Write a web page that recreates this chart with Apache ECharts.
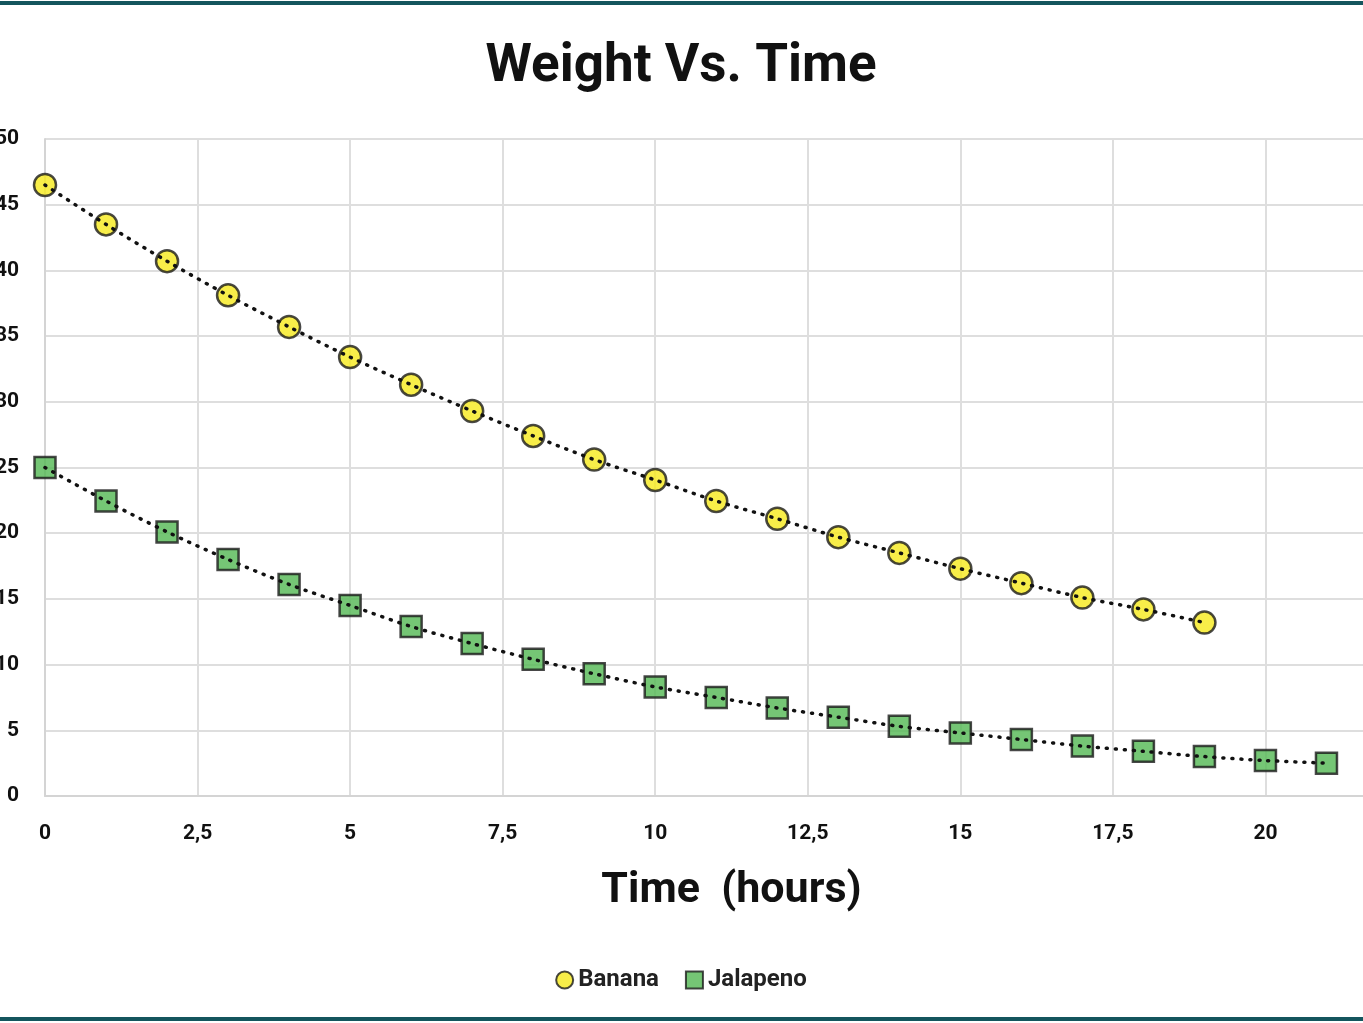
<!DOCTYPE html>
<html>
<head>
<meta charset="utf-8">
<script src="https://cdn.jsdelivr.net/npm/echarts@6/dist/echarts.min.js"></script>
<style>
  html, body { margin: 0; padding: 0; background: #fff; overflow: hidden; }
  .frame { position: relative; width: 1363px; height: 1023px; overflow: hidden; background: #fff; }
  .band { position: absolute; left: 0; width: 100%; height: 4px; background: #14555d; }
  #chart { position: absolute; left: -80px; top: 0; width: 1522px; height: 1023px; }
</style>
</head>
<body>
<div class="frame">
  <div id="chart"></div>
  <div class="band" style="top:1px"></div>
  <div class="band" style="top:1017px"></div>
</div>
<script>
const hours = [0, 1, 2, 3, 4, 5, 6, 7, 8, 9, 10, 11, 12, 13, 14, 15, 16, 17, 18, 19, 20, 21]
const banana = [46.5, 43.5, 40.7, 38.1, 35.7, 33.4, 31.3, 29.3, 27.4, 25.6, 24.05, 22.45,
  21.1, 19.7, 18.5, 17.3, 16.2, 15.1, 14.2, 13.2]
const jalapeno = [25.0, 22.45, 20.1, 18.0, 16.1, 14.5, 12.9, 11.6, 10.4, 9.3, 8.3, 7.5,
  6.7, 6.0, 5.3, 4.8, 4.3, 3.8, 3.4, 3.0, 2.7, 2.5]

const pairs = (ys) => ys.map((y, i) => [hours[i], y])

const chart = echarts.init(document.getElementById('chart'))
const font = 'Roboto, "Noto Sans", sans-serif'

const trend = (name, ys) => ({
  name: name + ' trend',
  type: 'line',
  data: pairs(ys),
  symbol: 'none',
  smooth: 0.3,
  z: 5,
  silent: true,
  lineStyle: { color: '#111', width: 3.5, type: [1, 8], cap: 'round' },
})

chart.setOption({
  animation: false,
  title: {
    text: 'Weight Vs. Time',
    left: 'center',
    top: 36,
    textStyle: { fontFamily: font, fontSize: 53, fontWeight: 'bold', color: '#111' },
  },
  legend: {
    data: ['Banana', 'Jalapeno'],
    left: 'center',
    top: 963,
    itemWidth: 17,
    itemHeight: 17,
    itemGap: 26,
    textStyle: { fontFamily: font, fontSize: 24, fontWeight: 'bold', color: '#222' },
  },
  grid: { left: 125, top: 139, right: 24, height: 657 },
  xAxis: {
    type: 'value',
    min: 0,
    max: 22.5,
    interval: 2.5,
    name: 'Time  (hours)',
    nameLocation: 'middle',
    nameGap: 74,
    nameTextStyle: { fontFamily: font, fontSize: 43, fontWeight: 'bold', color: '#111' },
    axisLine: { show: true, lineStyle: { color: '#d4d4d4', width: 2 } },
    axisTick: { show: false },
    axisLabel: {
      margin: 27,
      fontFamily: font, fontSize: 21, fontWeight: 'bold', color: '#111',
      formatter: (v) => String(v).replace('.', ','),
    },
    splitLine: { show: true, lineStyle: { color: '#dedede', width: 2 } },
  },
  yAxis: {
    type: 'value',
    min: 0,
    max: 50,
    interval: 5,
    axisLine: { show: true, lineStyle: { color: '#d4d4d4', width: 2 } },
    axisTick: { show: false },
    axisLabel: { margin: 26, fontFamily: font, fontSize: 21, fontWeight: 'bold', color: '#111' },
    splitLine: { show: true, lineStyle: { color: '#dedede', width: 2 } },
  },
  series: [
    {
      name: 'Banana',
      type: 'scatter',
      symbol: 'circle',
      symbolSize: 22,
      z: 3,
      data: pairs(banana),
      itemStyle: { color: '#f6ea1c', borderColor: '#1a1a1a', borderWidth: 2.5 },
    },
    {
      name: 'Jalapeno',
      type: 'scatter',
      symbol: 'rect',
      symbolSize: 21,
      z: 3,
      data: pairs(jalapeno),
      itemStyle: { color: '#52b853', borderColor: '#1a1a1a', borderWidth: 2.5 },
    },
    trend('Banana', banana),
    trend('Jalapeno', jalapeno),
  ],
})
</script>
</body>
</html>
